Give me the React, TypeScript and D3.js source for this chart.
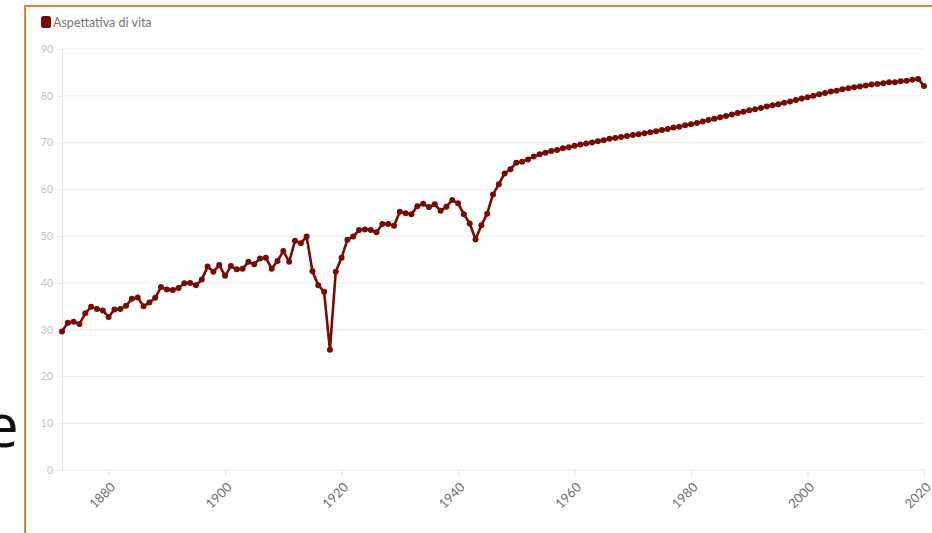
import React, { useEffect, useRef } from "react";
import * as d3 from "d3";

// life expectancy, one value per year from 1872 to 2020
const firstYear = 1872;
const lastYear = 2020;
const lifeExpectancy = [
  29.6, 31.5, 31.7, 31.2, 33.5, 34.9, 34.4, 34.1,
  32.7, 34.3, 34.4, 35.1, 36.6, 36.9, 35.0, 35.8, 36.8, 39.1,
  38.6, 38.5, 38.9, 39.9, 40.0, 39.5, 40.7, 43.5, 42.4, 43.8,
  41.5, 43.6, 42.9, 43.0, 44.5, 44.0, 45.2, 45.4, 43.0, 44.7,
  46.8, 44.5, 49.0, 48.5, 49.9, 42.5, 39.5, 38.1, 25.7, 42.4,
  45.4, 49.2, 49.9, 51.3, 51.4, 51.3, 50.8, 52.6, 52.6, 52.2,
  55.2, 54.9, 54.7, 56.4, 56.9, 56.2, 56.8, 55.4, 56.3, 57.7,
  57.0, 54.7, 52.7, 49.3, 52.3, 54.8, 58.9, 61.1, 63.4, 64.3,
  65.7, 65.9, 66.4, 67.0, 67.5, 67.8, 68.2, 68.4, 68.8, 69.0,
  69.3, 69.6, 69.8, 70.0, 70.3, 70.5, 70.8, 71.0, 71.2, 71.4,
  71.6, 71.8, 72.0, 72.2, 72.4, 72.7, 72.9, 73.2, 73.4, 73.7,
  73.9, 74.2, 74.5, 74.8, 75.1, 75.4, 75.7, 76.0, 76.3, 76.6,
  76.9, 77.1, 77.4, 77.7, 78.0, 78.2, 78.5, 78.8, 79.1, 79.4,
  79.7, 80.0, 80.3, 80.6, 80.9, 81.1, 81.4, 81.6, 81.8, 82.0,
  82.2, 82.4, 82.5, 82.7, 82.9, 82.9, 83.1, 83.2, 83.4, 83.6,
  82.1,
];
const xTicks = [1880, 1900, 1920, 1940, 1960, 1980, 2000, 2020];
const yTicks = [0, 10, 20, 30, 40, 50, 60, 70, 80, 90];
const seriesName = "Aspettativa di vita";

const W = 932;
const H = 533;
const lineColor = "#760d05";
const font = "Lato, 'Open Sans', sans-serif";

export default function App() {
  const ref = useRef<SVGSVGElement>(null);

  useEffect(() => {
    const svg = d3.select(ref.current);
    svg.selectAll("*").remove();

    const years = d3.range(firstYear, lastYear + 1);
    const data = years.map((yr, i) => ({ year: yr, value: lifeExpectancy[i] }));

    const x = d3.scaleLinear().domain([firstYear, lastYear]).range([62, 924]);
    const y = d3.scaleLinear().domain([0, 90]).range([470, 49]);

    svg.append("rect").attr("width", W).attr("height", H).attr("fill", "#fff");

    // slide frame + stray letter from the slide
    svg.append("path")
      .attr("d", `M25,${H} L25,6 L${W},6`)
      .attr("fill", "none")
      .attr("stroke", "#ed7d31")
      .attr("stroke-width", 2);
    svg.append("text")
      .attr("x", -15)
      .attr("y", 447)
      .attr("font-family", "'Open Sans', sans-serif")
      .attr("font-size", 60)
      .attr("fill", "#111")
      .text("e");

    // grid
    svg.append("g")
      .selectAll("line")
      .data(yTicks.filter(t => t > 0))
      .enter().append("line")
      .attr("x1", 62).attr("x2", 925)
      .attr("y1", d => y(d)).attr("y2", d => y(d))
      .attr("stroke", "#ececec");

    const yAxis = svg.append("g")
      .attr("transform", "translate(62,0)")
      .call(d3.axisLeft(y).tickValues(yTicks).tickSize(5).tickPadding(4));
    yAxis.select(".domain").attr("stroke", "#e6e6e6");
    yAxis.selectAll(".tick line").attr("stroke", "#e6e6e6");
    yAxis.selectAll(".tick text")
      .attr("fill", "#c4c4c4")
      .attr("font-size", 10.5)
      .attr("font-family", font);

    const xAxis = svg.append("g")
      .attr("transform", "translate(0,470)")
      .call(d3.axisBottom(x).tickValues(xTicks).tickFormat(d3.format("d")).tickSize(6));
    xAxis.select(".domain").attr("stroke", "#e6e6e6").attr("d", "M62,0H925");
    xAxis.selectAll(".tick line").attr("stroke", "#e2e2e2");
    xAxis.selectAll(".tick text")
      .attr("fill", "#6f6f6f")
      .attr("font-size", 13)
      .attr("font-family", font)
      .attr("text-anchor", "end")
      .attr("dy", null)
      .attr("x", 7)
      .attr("y", 18)
      .attr("transform", "rotate(-45, 7, 18)");

    // series
    const line = d3.line<{ year: number; value: number }>()
      .x(d => x(d.year))
      .y(d => y(d.value));
    svg.append("path")
      .datum(data)
      .attr("d", line)
      .attr("fill", "none")
      .attr("stroke", lineColor)
      .attr("stroke-width", 2.6)
      .attr("stroke-linejoin", "round");
    svg.append("g")
      .selectAll("circle")
      .data(data)
      .enter().append("circle")
      .attr("cx", d => x(d.year))
      .attr("cy", d => y(d.value))
      .attr("r", 3)
      .attr("fill", lineColor);

    // legend
    svg.append("rect")
      .attr("x", 41).attr("y", 16).attr("width", 10).attr("height", 12).attr("rx", 2.5)
      .attr("fill", lineColor);
    svg.append("text")
      .attr("x", 53).attr("y", 27)
      .attr("font-family", font)
      .attr("font-size", 12.5)
      .attr("fill", "#777")
      .text(seriesName);
  }, []);

  return (
    <svg
      ref={ref}
      width={W}
      height={H}
      style={{ position: "absolute", left: 0, top: 0, display: "block" }}
    />
  );
}
